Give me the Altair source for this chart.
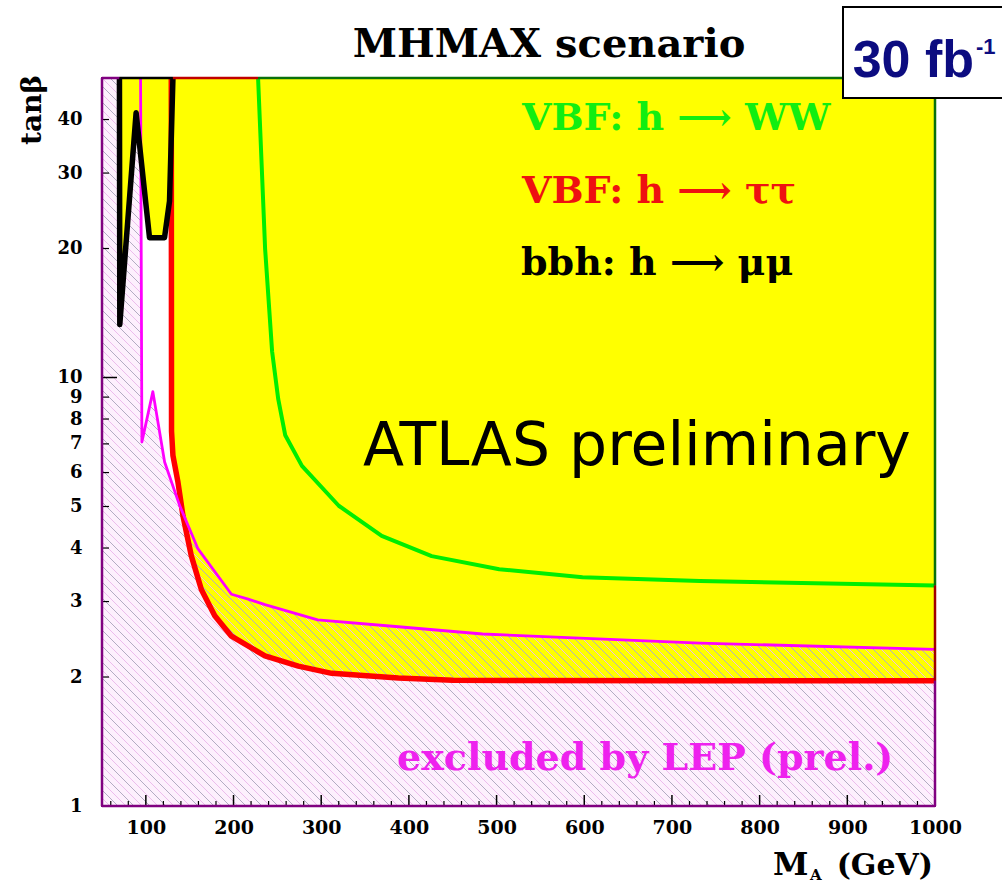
import altair as alt
import pandas as pd

# ---------------- data ----------------
X_DOMAIN = [50, 1000]
Y_DOMAIN = [1, 50]

# VBF h -> WW (green) discovery contour
GREEN_X = [228, 236, 244, 251, 259, 278, 320, 369, 426, 503, 598, 732, 1000]
GREEN_Y = [50, 20, 11.5, 8.9, 7.33, 6.22, 5.02, 4.27, 3.83, 3.57, 3.42, 3.35, 3.27]

# VBF h -> tautau (red) discovery contour
RED_X = [129, 129.3, 130.9, 136.6, 142.3, 151.8, 163.3, 178.6, 197.6, 235.8, 273.9,
         312, 388, 450, 732, 1000]
RED_Y = [50, 7.49, 6.58, 5.70, 4.76, 3.84, 3.20, 2.78, 2.49, 2.24, 2.12,
         2.04, 1.99, 1.965, 1.96, 1.96]

# bbh h -> mumu (black) discovery contour
BLACK_X = [69.9, 70.3, 88.9, 104.2, 121.3, 127.0, 130.9]
BLACK_Y = [50, 13.3, 41.5, 21.2, 21.2, 25.8, 50]

# LEP exclusion (magenta)
LEP_X = [94, 95.5, 108, 121.4, 138.5, 159.5, 197.6, 216.7, 235.8, 296, 388, 484, 732, 1000]
LEP_Y = [50, 7.07, 9.27, 6.35, 5.03, 3.98, 3.12, 3.04, 2.95, 2.72, 2.62, 2.52, 2.40, 2.32]

X_LABELS = [100, 200, 300, 400, 500, 600, 700, 800, 900, 1000]
X_MINOR = [v for v in range(60, 1000, 20) if v % 100 != 0]
Y_LABELS = [1, 2, 3, 4, 5, 6, 7, 8, 9, 10, 20, 30, 40]
Y_MAJOR = [10]
Y_MINOR = [2, 3, 4, 5, 6, 7, 8, 9, 20, 30, 40]

# ---------------- styling ----------------
W, H = 833, 728
YELLOW = "#ffff00"
GREEN = "#00ee00"
RED = "#ff0000"
MAGENTA = "#ff00ff"
PINK_BG = "#fdf0fd"
PURPLE = "#800080"
SERIF = "DejaVu Serif"
HATCH_STEP = 8  # px between hatch lines

xs = alt.Scale(domain=X_DOMAIN, nice=False, zero=False)
ys = alt.Scale(type="log", domain=Y_DOMAIN, nice=False)

X_AXIS = alt.Axis(
    values=X_LABELS, title=None, domain=False, ticks=False, tickSize=0, grid=False,
    labelFont=SERIF, labelFontWeight="bold", labelFontSize=19, labelColor="black",
    labelPadding=12, labelFlush=False, labelOverlap=False, format="d")
Y_AXIS = alt.Axis(
    values=Y_LABELS, title=None, domain=False, ticks=False, tickSize=0, grid=False,
    labelFont=SERIF, labelFontWeight="bold", labelFontSize=18, labelColor="black",
    labelPadding=20, labelFlush=False, labelOverlap=False, format="d")


def curve(xv, yv):
    return pd.DataFrame({"x": xv, "y": yv, "i": list(range(len(xv))),
                         "top": [Y_DOMAIN[1]] * len(xv)})


red_df = curve(RED_X, RED_Y)
green_df = curve(GREEN_X, GREEN_Y)
black_df = curve(BLACK_X, BLACK_Y)
lep_df = curve(LEP_X, LEP_Y)

# upper boundary of the pure-yellow part: red curve until it meets the LEP curve
cross = 138.0
upper_x = [x for x in RED_X if x < cross] + [x for x in LEP_X if x >= cross]
upper_y = [y for x, y in zip(RED_X, RED_Y) if x < cross] + \
          [y for x, y in zip(LEP_X, LEP_Y) if x >= cross]
upper_df = curve(upper_x, upper_y)


def X_ENC(f="x"):
    return alt.X(f"{f}:Q", scale=xs, axis=X_AXIS)


def Y_ENC(f="y"):
    return alt.Y(f"{f}:Q", scale=ys, axis=Y_AXIS, stack=None)


def area(df, color):
    return alt.Chart(df).mark_area(color=color, opacity=1).encode(
        x=X_ENC(), y=Y_ENC(), y2="top:Q")


# hatching texture: straight 45 degree lines from the top edge to the bottom edge
x_per_px = (X_DOMAIN[1] - X_DOMAIN[0]) / W
starts = list(range(-H, W + HATCH_STEP, HATCH_STEP))
hatch_df = pd.DataFrame({
    "x": [X_DOMAIN[0] + s * x_per_px for s in starts],
    "x2": [X_DOMAIN[0] + (s + H) * x_per_px for s in starts],
    "y": [Y_DOMAIN[1]] * len(starts),
    "y2": [Y_DOMAIN[0]] * len(starts),
    "c": ["#b2acc2" if k % 2 == 0 else "#ecbcec" for k in range(len(starts))],
})
hatch = alt.Chart(hatch_df).mark_rule(clip=True, strokeWidth=1).encode(
    x=X_ENC(), x2="x2:Q", y=Y_ENC(), y2="y2:Q", color=alt.Color("c:N", scale=None))

base = area(red_df, YELLOW)          # discovery region (under the hatch)
white = area(lep_df, "white")         # not excluded by LEP
upper = area(upper_df, YELLOW)        # discovery & not excluded
black_fill = area(black_df, YELLOW)   # bbh mumu region


def line(df, color, width):
    return alt.Chart(df).mark_line(color=color, strokeWidth=width, strokeJoin="round").encode(
        x=X_ENC(), y=Y_ENC(), order="i:Q")


lines = [line(green_df, GREEN, 4), line(red_df, RED, 5.5),
         line(lep_df, MAGENTA, 2.8), line(black_df, "black", 5.5)]

# ticks (inward)
xmaj = alt.Chart(pd.DataFrame({"x": X_LABELS})).mark_rule(color="black", strokeWidth=1.5).encode(
    x=X_ENC(), y=alt.value(H), y2=alt.value(H - 11))
xmin = alt.Chart(pd.DataFrame({"x": X_MINOR})).mark_rule(color="black", strokeWidth=1.2).encode(
    x=X_ENC(), y=alt.value(H), y2=alt.value(H - 5))
ymaj = alt.Chart(pd.DataFrame({"y": Y_MAJOR})).mark_rule(color="black", strokeWidth=1.5).encode(
    y=Y_ENC(), x=alt.value(0), x2=alt.value(15))
ymin = alt.Chart(pd.DataFrame({"y": Y_MINOR})).mark_rule(color="black", strokeWidth=1.2).encode(
    y=Y_ENC(), x=alt.value(0), x2=alt.value(7))

# frame pieces coloured like the contours touching them
xl, xr = X_DOMAIN
yb, yt = Y_DOMAIN
frame_df = pd.DataFrame([
    dict(x=xl, x2=xl, y=yb, y2=yt, c=PURPLE),
    dict(x=xl, x2=xr, y=yb, y2=yb, c=PURPLE),
    dict(x=xl, x2=BLACK_X[0], y=yt, y2=yt, c=PURPLE),
    dict(x=BLACK_X[0], x2=BLACK_X[-1], y=yt, y2=yt, c="black"),
    dict(x=BLACK_X[-1], x2=GREEN_X[0], y=yt, y2=yt, c="#c00000"),
    dict(x=GREEN_X[0], x2=xr, y=yt, y2=yt, c="#0a700a"),
    dict(x=xr, x2=xr, y=yt, y2=GREEN_Y[-1], c="#0a700a"),
    dict(x=xr, x2=xr, y=GREEN_Y[-1], y2=RED_Y[-1], c="#a00000"),
    dict(x=xr, x2=xr, y=RED_Y[-1], y2=yb, c=PURPLE),
])
frame = alt.Chart(frame_df).mark_rule(strokeWidth=2.5).encode(
    x=X_ENC(), x2="x2:Q", y=Y_ENC(), y2="y2:Q", color=alt.Color("c:N", scale=None))

# luminosity box
box = alt.Chart(pd.DataFrame({"k": [0]})).mark_rect(
    fill="white", stroke="black", strokeWidth=2).encode(
    x=alt.value(741), x2=alt.value(910), y=alt.value(-71), y2=alt.value(20))


def text(s, x, y, size, color="black", font=SERIF, weight="bold", align="left", angle=0,
         baseline="alphabetic"):
    return alt.Chart(pd.DataFrame({"t": [s]})).mark_text(
        align=align, baseline=baseline, font=font, fontWeight=weight, fontSize=size,
        color=color, angle=angle).encode(x=alt.value(x), y=alt.value(y), text="t:N")


ARROW = "\u27f6"
texts = [
    text("MHMAX scenario", 447, -21, 40, align="center"),
    text(f"VBF: h {ARROW} WW", 420, 52, 38, color="#11ee11"),
    text(f"VBF: h {ARROW} \u03c4\u03c4", 420, 125, 38, color="#ee1111"),
    text(f"bbh: h {ARROW} \u03bc\u03bc", 419, 197, 38, color="black"),
    text("ATLAS preliminary", 261, 387, 60, font="DejaVu Sans", weight="normal"),
    text("excluded by LEP (prel.)", 295, 692, 38, color="#ee22ee"),
    text("30 fb", 872, -1, 52, color="#0c0c80",
         font="Liberation Sans Narrow, Liberation Sans", align="right"),
    text("-1", 874, -24, 22, color="#0c0c80", font="Liberation Sans Narrow, Liberation Sans"),
    text("tan\u03b2", -69, 32, 28, angle=270, align="center", baseline="middle"),
    text("M", 671, 797, 32),
    text("A", 708, 802, 15),
    text("(GeV)", 831, 797, 30, align="right"),
]

chart = alt.layer(
    base, hatch, white, upper, black_fill, *lines, xmaj, xmin, ymaj, ymin, frame, box, *texts
).properties(
    width=W, height=H,
    padding={"left": 102, "top": 78, "right": 67, "bottom": 77},
    autosize=alt.AutoSizeParams(type="none"),
    background="white",
).configure_view(fill=PINK_BG, stroke=PURPLE, strokeWidth=2)

chart.save("out.html", embed_options={"renderer": "svg", "actions": False})
